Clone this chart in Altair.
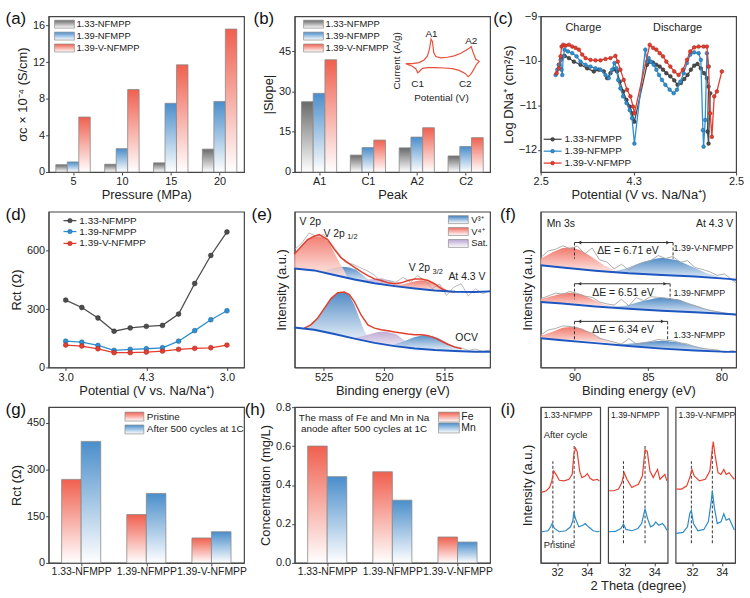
import altair as alt
import pandas as pd

FONT = "Liberation Sans"
W, H = 197, 157
ONE = pd.DataFrame({"k": [0]})
INK = "#222222"

SERIES = ["1.33-NFMPP", "1.39-NFMPP", "1.39-V-NFMPP"]
TOP_GRAY, TOP_BLUE, TOP_RED = "#6a6a6a", "#4a8ecb", "#f0604f"
L_GRAY, L_BLUE, L_RED = "#4d4d4d", "#2f8fd0", "#e53d2f"
D_GRAY, D_BLUE, D_RED = "#222222", "#1a5f95", "#9c2418"

# ---------------- (a) ----------------
pressure = ["5", "10", "15", "20"]
a_133 = [0.8, 0.85, 1.0, 2.5]
a_139 = [1.1, 2.55, 7.5, 7.7]
a_139v = [6.0, 9.0, 11.7, 15.6]

# ---------------- (b) ----------------
peaks = ["A1", "C1", "A2", "C2"]
b_133 = [26.2, 6.3, 9.0, 6.0]
b_139 = [29.3, 9.1, 13.0, 9.5]
b_139v = [41.8, 11.9, 16.5, 12.8]
cv_pot = [2.000, 2.218, 2.436, 2.600, 2.709, 2.775, 2.829, 2.873, 2.916, 2.982, 3.145, 3.364, 3.582,
          3.800, 3.964, 4.073, 4.138, 4.204, 4.291, 4.400,
          4.313, 4.225, 4.127, 4.040, 3.942, 3.745, 3.527, 3.255, 2.982, 2.709, 2.545, 2.436, 2.393,
          2.327, 2.196, 2.000]
cv_cur = [0.00, 0.00, 0.12, 0.44, 0.92, 1.72, 2.92, 2.60, 1.32, 0.84, 0.68, 0.76, 0.92,
          1.24, 1.60, 1.84, 2.04, 1.32, 0.52, 0.28,
          -0.08, -0.68, -1.28, -1.56, -1.16, -0.80, -0.60, -0.52, -0.48, -0.48, -0.56, -0.96, -1.08,
          -0.60, -0.28, 0.00]

# ---------------- (c) ----------------
c_x_133 = [0.187, 0.211, 0.245, 0.289, 0.340, 0.408, 0.476, 0.544, 0.595, 0.646, 0.680, 0.714, 0.755, 0.782,
           0.810, 0.844, 0.878, 0.912, 0.935, 0.959, 1.088, 1.116, 1.150, 1.184, 1.218, 1.252, 1.286, 1.327,
           1.367, 1.401, 1.435, 1.469, 1.503, 1.537, 1.571, 1.605, 1.639, 1.673, 1.701, 1.718, 1.707, 1.718, 1.735]
c_y_133 = [-10.09, -9.96, -9.89, -9.94, -10.02, -10.09, -10.17, -10.24, -10.20, -10.24, -10.39, -10.28, -10.19,
           -10.24, -10.47, -10.69, -10.88, -11.03, -11.18, -11.37, -10.09, -10.02, -10.04, -10.09, -10.13,
           -10.20, -10.28, -10.35, -10.44, -10.54, -10.50, -10.41, -10.32, -10.20, -10.11, -10.07, -10.17,
           -10.28, -10.39, -10.58, -11.59, -11.86, -10.73]
c_x_139 = [0.153, 0.170, 0.187, 0.204, 0.214, 0.221, 0.231, 0.245, 0.279, 0.323, 0.367, 0.408, 0.459, 0.510,
           0.561, 0.612, 0.663, 0.697, 0.731, 0.755, 0.776, 0.793, 0.816, 0.844, 0.878, 0.912, 0.935, 0.959,
           1.071, 1.088, 1.105, 1.129, 1.156, 1.184, 1.211, 1.241, 1.276, 1.320, 1.361, 1.395, 1.429, 1.463,
           1.497, 1.531, 1.571, 1.616, 1.639, 1.660, 1.667, 1.684, 1.701, 1.718]
c_y_139 = [-10.32, -10.20, -10.09, -9.98, -10.20, -10.32, -9.90, -9.75, -9.79, -9.83, -9.90, -10.02, -10.09,
           -10.13, -10.17, -10.20, -10.32, -10.39, -10.20, -10.05, -10.17, -10.43, -10.62, -10.80, -10.95,
           -11.11, -11.29, -11.86, -9.75, -10.02, -9.94, -10.02, -10.09, -10.20, -10.32, -10.43, -10.54,
           -10.65, -10.73, -10.65, -10.47, -10.28, -10.05, -9.86, -9.81, -9.83, -9.98, -11.56, -11.93,
           -11.33, -9.83, -10.13]
c_x_139v = [0.163, 0.187, 0.204, 0.214, 0.231, 0.255, 0.289, 0.323, 0.357, 0.391, 0.425, 0.459, 0.510, 0.561,
            0.612, 0.663, 0.714, 0.765, 0.789, 0.816, 0.850, 0.884, 0.918, 0.946, 0.959, 1.116, 1.150, 1.184,
            1.218, 1.252, 1.286, 1.327, 1.367, 1.412, 1.456, 1.497, 1.531, 1.571, 1.616, 1.667, 1.701, 1.718,
            1.735, 1.752, 1.776, 1.803, 1.854]
c_y_139v = [-10.28, -10.17, -9.90, -9.68, -9.64, -9.66, -9.64, -9.68, -9.71, -9.75, -9.86, -9.94, -9.98, -9.99,
            -9.99, -9.96, -9.94, -9.89, -10.02, -10.20, -10.43, -10.65, -10.80, -11.03, -11.18, -9.64, -9.71,
            -9.75, -9.83, -9.90, -10.02, -10.13, -10.24, -10.32, -10.20, -9.98, -9.79, -9.70, -9.68, -9.68,
            -9.68, -10.13, -11.18, -11.71, -10.80, -10.69, -10.24]
c_ticks = [0, 0.952, 2]

# ---------------- (d) ----------------
d_step = [0, 1, 2, 3, 4, 5, 6, 7, 8, 9, 10]
d_133 = [346, 308, 254, 186, 203, 211, 216, 274, 431, 575, 696]
d_139 = [135, 130, 113, 88, 93, 96, 101, 135, 189, 245, 291]
d_139v = [115, 110, 96, 76, 76, 79, 84, 93, 98, 101, 115]

# ---------------- (e) ----------------
e_base_be = [527.44, 525.78, 524.11, 522.44, 520.78, 519.11, 517.44, 515.78, 514.11, 512.44, 511.19]
e_base_hi = [30.2, 29.6, 28.2, 26.8, 25.7, 24.8, 24.1, 23.5, 23.1, 23.0, 23.2]
e_base_ocv = [12.2, 11.5, 10.2, 8.8, 7.5, 6.5, 5.8, 5.3, 5.0, 4.8, 4.8]
e_v4a_be = [527.44, 526.89, 526.33, 525.78, 525.36, 524.94, 524.53, 524.11, 523.69, 523.28, 523.0]
e_v4a_top = [34.5, 37.0, 39.0, 39.8, 40.0, 39.5, 38.0, 35.0, 32.0, 29.5, 27.3]
e_v4a_bot = [30.2, 30.0, 29.8, 29.6, 29.3, 28.9, 28.6, 28.2, 27.9, 27.5, 27.3]
e_v3a_be = [525.08, 524.53, 523.97, 523.42, 522.86, 522.31, 521.75, 521.33, 521.06]
e_v3a_top = [29.0, 30.0, 30.5, 30.7, 30.5, 29.8, 28.2, 27.0, 25.9]
e_v3a_bot = [29.0, 28.6, 28.1, 27.6, 27.1, 26.7, 26.3, 26.0, 25.9]
e_sata_be = [522.0, 521.0, 520.2, 519.5, 518.5, 518.0]
e_sata_top = [26.5, 26.9, 27.2, 26.5, 25.0, 24.4]
e_sata_bot = [26.5, 25.8, 25.4, 25.0, 24.5, 24.3]
e_v4b_be = [519.5, 518.5, 517.5, 516.9, 516.0, 515.2, 514.5]
e_v4b_top = [25.0, 25.3, 26.2, 26.6, 26.0, 24.6, 23.2]
e_v4b_bot = [25.0, 24.5, 24.1, 23.9, 23.6, 23.4, 23.2]
e_env_hi_be = [527.44, 526.33, 525.78, 525.36, 524.67, 524.11, 523.56, 523.0, 522.44, 521.89, 521.33, 520.78,
               520.22, 519.67, 519.11, 518.56, 518.0, 517.44, 516.89, 516.33, 515.78, 515.22, 514.67, 514.11]
e_env_hi = [34.5, 39.0, 40.0, 40.5, 39.0, 36.0, 33.5, 32.0, 30.5, 29.2, 28.0, 27.0, 26.5, 25.8, 25.5, 25.8,
            26.5, 27.0, 27.0, 26.5, 25.5, 24.0, 23.2, 23.0]
e_v3o_be = [526.6, 526.06, 525.5, 524.94, 524.39, 523.83, 523.28, 522.86, 522.44, 522.03, 521.61, 521.19, 521.0]
e_v3o_top = [11.9, 13.0, 15.0, 18.0, 21.0, 22.8, 23.0, 22.0, 19.0, 15.0, 11.0, 8.8, 7.7]
e_v3o_bot = [11.9, 11.7, 11.2, 10.7, 10.3, 9.9, 9.5, 9.1, 8.8, 8.5, 8.2, 7.8, 7.7]
e_sato_be = [522.5, 521.5, 520.5, 519.9, 519.0, 518.2, 517.5]
e_sato_top = [8.9, 9.8, 10.8, 11.0, 10.2, 8.0, 5.9]
e_sato_bot = [8.9, 8.1, 7.3, 6.9, 6.4, 6.1, 5.9]
e_v3ob_be = [519.5, 518.5, 517.5, 516.6, 515.5, 514.5, 513.5]
e_v3ob_top = [6.6, 7.8, 9.2, 10.0, 9.0, 7.0, 5.0]
e_v3ob_bot = [6.6, 6.2, 5.8, 5.5, 5.3, 5.1, 5.0]
e_env_ocv_be = [526.6, 526.06, 525.5, 524.94, 524.39, 523.83, 523.28, 522.86, 522.44, 521.89, 521.33, 520.78,
                520.22, 519.67, 519.11, 518.56, 518.0, 517.44, 516.89, 516.33, 515.78, 515.22, 514.67, 514.11,
                513.56]
e_env_ocv = [12.0, 13.0, 15.0, 18.0, 21.0, 22.8, 23.0, 22.2, 20.0, 16.0, 13.0, 12.0, 11.5, 11.2, 10.8, 10.5,
             10.2, 10.0, 10.0, 9.7, 9.0, 8.0, 7.0, 6.2, 5.7]
e_raw_be = [527.4, 526.8, 526.2, 525.6, 525.0, 524.4, 523.8, 523.2, 522.6, 522.0, 521.4, 520.8, 520.2, 519.6,
            519.0, 518.4, 517.8, 517.2, 516.6, 516.0, 515.4, 514.8, 514.2, 513.6, 513.0, 512.4, 511.8, 511.2]
e_raw_hi = [36.0, 38.0, 41.0, 40.0, 40.5, 38.0, 35.0, 32.0, 31.5, 30.5, 29.5, 28.2, 26.0, 26.5, 26.0, 27.5,
            26.0, 28.0, 26.5, 24.0, 25.5, 22.0, 24.5, 25.5, 21.8, 24.0, 22.5, 23.5]
e_raw_ocv_be = [516.0, 515.4, 514.8, 514.2, 513.6, 513.0, 512.4, 511.8, 511.2]
e_raw_ocv = [9.6, 8.4, 7.2, 6.4, 6.0, 5.2, 5.6, 4.9, 5.3]

# ---------------- (f) ----------------
f_base_be = [92.3, 90.84, 88.58, 86.32, 84.06, 81.81, 79.55, 79.0]
f_base = {"top": [31.5, 30.8, 29.8, 29.0, 28.5, 28.0, 27.3, 27.0],
          "mid": [20.2, 19.7, 18.8, 18.1, 17.5, 17.0, 16.5, 16.3],
          "bot": [9.0, 8.4, 7.5, 6.6, 5.8, 5.2, 4.8, 4.8]}
f_red_be = [92.3, 91.5, 90.8, 90.2, 89.5, 88.8, 88.0, 87.3, 86.7]
f_red_top = {"top": [33.5, 35.5, 36.8, 37.0, 36.0, 34.0, 31.5, 30.0, 29.1],
             "mid": [21.0, 22.0, 22.8, 23.0, 22.5, 21.0, 19.5, 18.8, 18.4],
             "bot": [9.8, 11.0, 12.2, 12.5, 12.0, 10.5, 8.5, 7.6, 7.1]}
f_red_bot = {"top": [31.5, 31.1, 30.8, 30.6, 30.3, 30.0, 29.6, 29.3, 29.1],
             "mid": [20.2, 20.0, 19.8, 19.7, 19.5, 19.2, 18.9, 18.6, 18.4],
             "bot": [9.0, 8.8, 8.6, 8.5, 8.3, 8.0, 7.7, 7.3, 7.1]}
f_blue_be = [87.5, 86.5, 85.5, 84.5, 84.0, 83.0, 82.0, 81.0, 80.0, 79.0]
f_blue_top = {"top": [29.4, 30.5, 32.3, 33.5, 33.8, 33.0, 31.0, 29.0, 27.8, 27.0],
              "mid": [18.6, 19.0, 20.3, 21.3, 21.5, 21.0, 19.5, 18.0, 17.0, 16.3],
              "bot": [7.2, 7.2, 7.6, 8.1, 8.2, 7.8, 6.8, 5.8, 5.1, 4.8]}
f_blue_bot = {"top": [29.4, 29.0, 28.7, 28.6, 28.4, 28.2, 28.0, 27.6, 27.3, 27.0],
              "mid": [18.6, 18.3, 18.0, 17.7, 17.5, 17.3, 17.1, 16.9, 16.7, 16.3],
              "bot": [7.2, 6.9, 6.5, 6.0, 5.8, 5.6, 5.4, 5.2, 5.0, 4.8]}
f_raw_be = [92.3, 91.8, 91.3, 90.8, 90.3, 89.8, 89.3, 88.8, 88.3, 87.8, 87.3, 86.8, 86.3, 85.8, 85.3, 84.8,
            84.3, 83.8, 83.3, 82.8, 82.3, 81.8, 81.3, 80.8, 80.3, 79.8, 79.3, 79.0]
f_raw = {"top": [33.8, 35.9, 36.4, 37.5, 36.6, 37.4, 35.0, 36.8, 33.2, 32.5, 30.4, 31.8, 30.0, 31.5, 32.4, 33.0,
                 34.5, 33.6, 34.2, 32.4, 32.9, 30.8, 30.2, 29.5, 28.4, 28.8, 27.2, 26.0],
         "mid": [21.2, 22.0, 22.9, 22.6, 23.4, 22.8, 22.0, 21.6, 20.2, 19.6, 19.2, 21.0, 19.0, 21.5, 20.6, 21.8,
                 21.6, 21.4, 21.0, 20.7, 19.6, 19.0, 18.2, 17.6, 17.2, 16.8, 16.5, 16.0],
         "bot": [10.0, 11.5, 12.0, 12.8, 12.6, 12.3, 11.2, 10.6, 9.0, 8.4, 7.8, 7.2, 8.9, 7.3, 7.6, 8.0, 8.6, 8.4,
                 8.2, 7.6, 7.2, 6.4, 5.9, 5.6, 5.4, 4.6, 5.2, 4.9]}
f_dE = [6.71, 6.51, 6.34]
f_dE_left = 90.0
f_arrow_y = [38.5, 25.8, 14.2]
f_dash_low = [33.5, 21.0, 8.0]
f_samples = ["1.39-V-NFMPP", "1.39-NFMPP", "1.33-NFMPP"]

# ---------------- (g) / (h) ----------------
g_pristine = [268, 155, 80]
g_after = [390, 223, 100]
h_fe = [0.60, 0.468, 0.133]
h_mn = [0.443, 0.322, 0.107]

# ---------------- (i) ----------------
i_red_x = [
    [30.96, 31.28, 31.5, 31.65, 31.78, 31.93, 32.15, 32.48, 32.8, 33.02, 33.13, 33.24, 33.35, 33.52, 33.67, 33.89,
     34.04, 34.22, 34.43, 34.7, 34.85],
    [30.95, 31.27, 31.6, 31.82, 31.98, 32.16, 32.49, 32.93, 33.2, 33.38, 33.53, 33.71, 33.93, 34.1, 34.22, 34.38,
     34.6, 34.71, 34.85],
    [30.95, 31.3, 31.65, 31.85, 32.0, 32.15, 32.5, 32.9, 33.2, 33.35, 33.43, 33.55, 33.75, 33.95, 34.14, 34.3,
     34.5, 34.65, 34.85]]
i_red_y = [
    [21.5, 22.0, 23.0, 25.0, 28.0, 27.0, 25.2, 25.0, 25.5, 27.0, 33.0, 35.0, 34.0, 28.0, 26.0, 26.5, 27.2, 25.8,
     25.2, 25.5, 25.0],
    [22.0, 22.0, 22.5, 24.5, 27.5, 25.5, 23.0, 24.0, 26.5, 34.5, 34.0, 28.0, 26.0, 27.5, 28.5, 25.5, 26.5, 27.0,
     25.0],
    [22.5, 22.5, 23.5, 26.0, 28.5, 26.5, 25.0, 25.5, 28.0, 34.0, 37.0, 33.0, 27.5, 27.0, 28.5, 27.0, 27.5, 26.5,
     25.5]]
i_blue_x = [
    [30.96, 31.4, 31.57, 31.67, 31.83, 32.15, 32.59, 32.91, 33.07, 33.13, 33.24, 33.46, 33.74, 33.89, 34.11, 34.43,
     34.7, 34.85],
    [30.95, 31.4, 31.75, 31.93, 32.1, 32.5, 32.9, 33.15, 33.38, 33.55, 33.75, 33.95, 34.1, 34.3, 34.55, 34.7,
     34.85],
    [30.95, 31.4, 31.7, 31.85, 31.96, 32.1, 32.4, 32.8, 33.1, 33.3, 33.37, 33.5, 33.7, 33.95, 34.14, 34.3, 34.5,
     34.65, 34.85]]
i_blue_y = [
    [9.5, 9.8, 11.0, 12.0, 10.5, 9.5, 9.8, 11.0, 13.0, 15.5, 13.5, 11.0, 11.5, 12.0, 11.0, 9.8, 9.5, 9.6],
    [9.5, 9.6, 10.5, 11.8, 10.2, 9.8, 10.5, 12.0, 16.5, 13.5, 11.0, 11.5, 12.5, 11.5, 12.0, 11.2, 10.0],
    [9.0, 9.3, 11.0, 15.0, 16.0, 12.0, 9.8, 10.2, 12.5, 19.0, 22.0, 17.0, 12.0, 12.5, 15.0, 13.0, 13.5, 12.0, 10.0]]
i_dash = [[31.72, 33.15], [31.93, 33.38], [31.96, 33.37]]
i_dash_top = [31.0, 36.0]
i_dash_low = 6.0


# ================= helpers =================
def grad(c, end="#ffffff"):
    return {"gradient": "linear", "x1": 0, "x2": 0, "y1": 0, "y2": 1,
            "stops": [{"offset": 0, "color": c}, {"offset": 1, "color": end}]}


def txt(s, x, y, size=10.5, align="left", baseline="middle", color=INK, italic=False, angle=None):
    kw = dict(text=s, align=align, baseline=baseline, fontSize=size, color=color, font=FONT)
    if italic:
        kw["fontStyle"] = "italic"
    if angle is not None:
        kw["angle"] = angle
    return alt.Chart(ONE).mark_text(**kw).encode(x=alt.value(x), y=alt.value(y))


def swatch(c, x, y, w=20, h=8):
    return alt.Chart(ONE).mark_rect(color=grad(c), stroke="#8c8c8c", strokeWidth=0.7).encode(
        x=alt.value(x), x2=alt.value(x + w), y=alt.value(y), y2=alt.value(y + h))


def plabel(s, dx=-33, dy=3):
    return txt(s, dx, dy, size=17, align="center", color="#111111")


def grouped_bars(cats, names, vals, tops, ydom, yvals, ytitle, xtitle, bw, yfmt=None, lsize=11):
    rows = []
    for si, (n, v) in enumerate(zip(names, vals)):
        for ci, val in enumerate(v):
            rows.append({"ci": ci, "si": si, "series": n, "value": val})
    df = pd.DataFrame(rows)
    k = len(names)
    mid = (k - 1) / 2
    label_expr = "[" + ",".join("'%s'" % c for c in cats) + "][round(datum.value)]"
    xk = dict(values=list(range(len(cats))), labelExpr=label_expr, labelOverlap=False, labelFontSize=lsize,
              title=xtitle)
    xax = alt.Axis(**xk)
    yk = dict(values=yvals, title=ytitle)
    if yfmt:
        yk["format"] = yfmt
    yax = alt.Axis(**yk)
    base = alt.Chart(df).transform_calculate(
        left="datum.ci + (datum.si - %f) * %f - %f" % (mid, bw, bw / 2),
        right="datum.ci + (datum.si - %f) * %f + %f" % (mid, bw, bw / 2),
        zero="0")
    layers = []
    for si, top in enumerate(tops):
        layers.append(
            base.transform_filter(alt.datum.si == si).mark_bar(
                color=grad(top), stroke="#8a8a8a", strokeWidth=0.8).encode(
                x=alt.X("left:Q", scale=alt.Scale(domain=[-0.5, len(cats) - 0.5], nice=False, zero=False),
                        axis=xax),
                x2="right:Q",
                y=alt.Y("value:Q", scale=alt.Scale(domain=ydom, nice=False), axis=yax),
                y2="zero:Q"))
    return layers


def line_pts(xs, ys, col, dark, xscale, yscale, xaxis, yaxis, size):
    df = pd.DataFrame({"x": xs, "y": ys, "i": list(range(len(xs)))})
    base = alt.Chart(df).encode(x=alt.X("x:Q", scale=xscale, axis=xaxis),
                                y=alt.Y("y:Q", scale=yscale, axis=yaxis), order=alt.Order("i:Q"))
    return [base.mark_line(color=col, strokeWidth=1.3),
            base.mark_circle(color=col, stroke=dark, strokeWidth=0.5, size=size, opacity=1)]


def line_key(col, dark, x0, x1, y, label, size, fs=10):
    return [alt.Chart(ONE).mark_rule(color=col, strokeWidth=1.3).encode(
                x=alt.value(x0), x2=alt.value(x1), y=alt.value(y)),
            alt.Chart(ONE).mark_circle(color=col, stroke=dark, strokeWidth=0.5, size=size, opacity=1).encode(
                x=alt.value((x0 + x1) / 2), y=alt.value(y)),
            txt(label, x1 + 3, y, size=fs)]


# ================= (a) =================
panel_a = alt.layer(
    *grouped_bars(pressure, SERIES, [a_133, a_139, a_139v], [TOP_GRAY, TOP_BLUE, TOP_RED],
                  [0, 17], [0, 4, 8, 12, 16], "σc × 10⁻⁴ (S/cm)", "Pressure (MPa)", 0.235),
    swatch(TOP_GRAY, 6, 4), swatch(TOP_BLUE, 6, 16), swatch(TOP_RED, 6, 28),
    txt(SERIES[0], 28, 8, size=9.5), txt(SERIES[1], 28, 20, size=9.5), txt(SERIES[2], 28, 32, size=9.5),
    plabel("(a)"),
).properties(width=W, height=H)

# ================= (b) =================
b_inner = alt.layer(
    *grouped_bars(peaks, SERIES, [b_133, b_139, b_139v], [TOP_GRAY, TOP_BLUE, TOP_RED],
                  [0, 58], [0, 15, 30, 45], "|Slope|", "Peak", 0.24),
    swatch(TOP_GRAY, 9, 4), swatch(TOP_BLUE, 9, 16), swatch(TOP_RED, 9, 28),
    txt(SERIES[0], 31, 8, size=9.5), txt(SERIES[1], 31, 20, size=9.5), txt(SERIES[2], 31, 32, size=9.5),
    plabel("(b)", dx=-31),
)
cv_df = pd.DataFrame({"pot": cv_pot, "cur": cv_cur, "i": list(range(len(cv_pot)))})
b_inset = alt.Chart(cv_df).mark_line(color="#e8503f", strokeWidth=1.2).encode(
    x=alt.X("pot:Q", scale=alt.Scale(domain=[2.0, 4.4], range=[112, 186], nice=False, zero=False), axis=None),
    y=alt.Y("cur:Q", scale=alt.Scale(domain=[-1.56, 2.92], range=[61, 23], nice=False, zero=False), axis=None),
    order=alt.Order("i:Q"))
panel_b = alt.layer(
    b_inner, b_inset,
    txt("A1", 138, 18, size=10, align="center"), txt("A2", 178, 25, size=10, align="center"),
    txt("C1", 124, 68, size=10, align="center"), txt("C2", 172, 68, size=10, align="center"),
    txt("Potential (V)", 148, 82, size=10, align="center"),
    txt("Current (A/g)", 103, 45, size=10, align="center", angle=270),
).resolve_scale(x="independent", y="independent").properties(width=W, height=H)

# ================= (c) =================
cxs = alt.Scale(domain=[0, 2], nice=False, zero=False)
cys = alt.Scale(domain=[-12.5, -9], nice=False, zero=False)
cxa = alt.Axis(values=c_ticks, title="Potential (V vs. Na/Na⁺)",
               labelExpr="datum.value < 0.5 ? '2.5' : (datum.value < 1.5 ? '4.3' : '2.5')")
cya = alt.Axis(values=[-12, -11, -10, -9], title="Log DNa⁺ (cm²/s)")
c_layers = []
for xs, ys, col, dk in [(c_x_133, c_y_133, L_GRAY, D_GRAY), (c_x_139, c_y_139, L_BLUE, D_BLUE),
                        (c_x_139v, c_y_139v, L_RED, D_RED)]:
    c_layers += line_pts(xs, ys, col, dk, cxs, cys, cxa, cya, 14)
panel_c = alt.layer(
    *c_layers,
    txt("Charge", 43, 12, size=11, align="center"), txt("Discharge", 138, 12, size=11, align="center"),
    *line_key(L_GRAY, D_GRAY, 3, 21, 124, SERIES[0], 14),
    *line_key(L_BLUE, D_BLUE, 3, 21, 136, SERIES[1], 14),
    *line_key(L_RED, D_RED, 3, 21, 148, SERIES[2], 14),
    plabel("(c)", dx=-38),
).properties(width=W, height=H)

# ================= (d) =================
dxs = alt.Scale(domain=[-1.06, 11.06], nice=False, zero=False)
dys = alt.Scale(domain=[0, 800], nice=False)
dxa = alt.Axis(values=[0, 5, 10], title="Potential (V vs. Na/Na⁺)",
               labelExpr="datum.value == 5 ? '4.3' : '3.0'")
dya = alt.Axis(values=[0, 300, 600], title="Rct (Ω)")
d_layers = []
for ys, col, dk in [(d_133, L_GRAY, D_GRAY), (d_139, L_BLUE, D_BLUE), (d_139v, L_RED, D_RED)]:
    d_layers += line_pts(d_step, ys, col, dk, dxs, dys, dxa, dya, 24)
panel_d = alt.layer(
    *d_layers,
    *line_key(L_GRAY, D_GRAY, 15, 28, 9, SERIES[0], 20),
    *line_key(L_BLUE, D_BLUE, 15, 28, 20, SERIES[1], 20),
    *line_key(L_RED, D_RED, 15, 28, 32, SERIES[2], 20),
    plabel("(d)"),
).properties(width=W, height=H)

# ================= (e) =================
exs = alt.Scale(domain=[511.2, 527.4], reverse=True, nice=False, zero=False)
eys = alt.Scale(domain=[0, 47.5], nice=False)
exa = alt.Axis(values=[525, 520, 515], title="Binding energy (eV)")
eya = alt.Axis(labels=False, ticks=False, title="Intensity (a.u.)", titlePadding=6)
C_V3, C_V4, C_SAT = "#3f7fbf", "#f06a5c", "#b9a3cf"


def e_area(be, top, bot, col, end, op=0.9, xs=exs, ys=eys, xa=exa, ya=eya):
    df = pd.DataFrame({"be": be, "top": top, "bot": bot})
    return alt.Chart(df).mark_area(color=grad(col, end), opacity=op).encode(
        x=alt.X("be:Q", scale=xs, axis=xa), y=alt.Y("top:Q", scale=ys, axis=ya), y2="bot:Q")


def e_line(be, val, col, w, xs=exs, ys=eys, xa=exa, ya=eya):
    df = pd.DataFrame({"be": be, "val": val})
    return alt.Chart(df).mark_line(color=col, strokeWidth=w).encode(
        x=alt.X("be:Q", scale=xs, axis=xa), y=alt.Y("val:Q", scale=ys, axis=ya))


panel_e = alt.layer(
    e_area(e_v3a_be, e_v3a_top, e_v3a_bot, C_V3, "#e9f0f8"),
    e_area(e_sata_be, e_sata_top, e_sata_bot, C_SAT, "#f1ecf6"),
    e_area(e_v4b_be, e_v4b_top, e_v4b_bot, C_V4, "#fde9e6"),
    e_area(e_v4a_be, e_v4a_top, e_v4a_bot, C_V4, "#fde9e6", op=0.85),
    e_area(e_v3o_be, e_v3o_top, e_v3o_bot, C_V3, "#e9f0f8"),
    e_area(e_sato_be, e_sato_top, e_sato_bot, C_SAT, "#f1ecf6"),
    e_area(e_v3ob_be, e_v3ob_top, e_v3ob_bot, C_V3, "#e9f0f8"),
    e_line(e_raw_be, e_raw_hi, "#a8a8a8", 0.8),
    e_line(e_raw_ocv_be, e_raw_ocv, "#a8a8a8", 0.8),
    e_line(e_env_hi_be, e_env_hi, "#e0402f", 1.5),
    e_line(e_env_ocv_be, e_env_ocv, "#e0402f", 1.5),
    e_line(e_base_be, e_base_hi, "#1d56c0", 2),
    e_line(e_base_be, e_base_ocv, "#1d56c0", 2),
    txt("V 2p", 5, 10, size=10.5), txt("V 2p", 29, 22, size=10.5), txt("1/2", 53, 26, size=7.5),
    txt("V 2p", 115, 57, size=10.5), txt("3/2", 139, 61, size=7.5),
    txt("At 4.3 V", 155, 66, size=10.5), txt("OCV", 162, 127, size=10.5),
    swatch(C_V3, 155, 4), swatch(C_V4, 155, 16), swatch(C_SAT, 155, 28),
    txt("V³⁺", 178, 8, size=9.5), txt("V⁴⁺", 178, 20, size=9.5), txt("Sat.", 178, 32, size=9.5),
    plabel("(e)"),
).properties(width=W, height=H)

# ================= (f) =================
fxs = alt.Scale(domain=[79.0, 92.3], reverse=True, nice=False, zero=False)
fys = alt.Scale(domain=[0, 48], nice=False)
fxa = alt.Axis(values=[90, 85, 80], title="Binding energy (eV)")
fya = alt.Axis(labels=False, ticks=False, title="Intensity (a.u.)", titlePadding=6)
f_layers = []
for key in ["top", "mid", "bot"]:
    f_layers.append(e_area(f_red_be, f_red_top[key], f_red_bot[key], "#f0695b", "#fde8e5", 0.9, fxs, fys, fxa, fya))
    f_layers.append(e_area(f_blue_be, f_blue_top[key], f_blue_bot[key], "#3d7fc0", "#e8eff8", 0.9, fxs, fys, fxa, fya))
for key in ["top", "mid", "bot"]:
    f_layers.append(e_line(f_raw_be, f_raw[key], "#a3a3a3", 0.9, fxs, fys, fxa, fya))
    f_layers.append(e_line(f_base_be, f_base[key], "#1d56c0", 2, fxs, fys, fxa, fya))
dash_rows, arr_rows, head_rows = [], [], []
for dE, ya_, yl in zip(f_dE, f_arrow_y, f_dash_low):
    for b in [f_dE_left, f_dE_left - dE]:
        dash_rows.append({"be": b, "y1": ya_, "y2": yl})
    arr_rows.append({"b1": f_dE_left, "b2": f_dE_left - dE, "y": ya_})
    head_rows.append({"be": f_dE_left - 0.35, "y": ya_, "s": "triangle-left"})
    head_rows.append({"be": f_dE_left - dE + 0.35, "y": ya_, "s": "triangle-right"})
f_layers.append(alt.Chart(pd.DataFrame(dash_rows)).mark_rule(color="#333333", strokeDash=[3, 2], strokeWidth=1).encode(
    x=alt.X("be:Q", scale=fxs, axis=fxa), y=alt.Y("y1:Q", scale=fys, axis=fya), y2="y2:Q"))
f_layers.append(alt.Chart(pd.DataFrame(arr_rows)).mark_rule(color="#333333", strokeWidth=1).encode(
    x=alt.X("b1:Q", scale=fxs, axis=fxa), x2="b2:Q", y=alt.Y("y:Q", scale=fys, axis=fya)))
f_layers.append(alt.Chart(pd.DataFrame(head_rows)).mark_point(filled=True, color="#333333", size=14, opacity=1).encode(
    x=alt.X("be:Q", scale=fxs, axis=fxa), y=alt.Y("y:Q", scale=fys, axis=fya),
    shape=alt.Shape("s:N", scale=None)))
panel_f = alt.layer(
    *f_layers,
    txt("Mn 3s", 6, 12, size=10.5), txt("At 4.3 V", 194, 12, size=10.5, align="right"),
    txt("ΔE = 6.71 eV", 88, 40, size=10.5, align="center"),
    txt("ΔE = 6.51 eV", 83, 82, size=10.5, align="center"),
    txt("ΔE = 6.34 eV", 83, 119, size=10.5, align="center"),
    txt(f_samples[0], 134, 37, size=9), txt(f_samples[1], 134, 82, size=9),
    txt(f_samples[2], 134, 124, size=9),
    plabel("(f)"),
).properties(width=W, height=H)

# ================= (g) =================
panel_g = alt.layer(
    *grouped_bars(SERIES, ["Pristine", "After 500 cycles at 1C"], [g_pristine, g_after],
                  [TOP_RED, TOP_BLUE], [0, 500], [0, 150, 300, 450], "Rct (Ω)", None, 0.3, lsize=10.5),
    swatch(TOP_RED, 77, 5, 19, 9), swatch(TOP_BLUE, 77, 18, 19, 9),
    txt("Pristine", 99, 9.5, size=10), txt("After 500 cycles at 1C", 99, 22.5, size=10),
    plabel("(g)"),
).properties(width=W, height=H)

# ================= (h) =================
panel_h = alt.layer(
    *grouped_bars(SERIES, ["Fe", "Mn"], [h_fe, h_mn], [TOP_RED, TOP_BLUE], [0, 0.8],
                  [0, 0.2, 0.4, 0.6, 0.8], "Concentration (mg/L)", None, 0.3, yfmt=".1f", lsize=10.5),
    swatch(TOP_RED, 145, 5, 21, 10), swatch(TOP_BLUE, 145, 16, 21, 10),
    txt("Fe", 168, 10), txt("Mn", 168, 21),
    txt("The mass of Fe and Mn in Na", 70, 11, size=10, align="center"),
    txt("anode after 500 cycles at 1C", 70, 22, size=10, align="center"),
    plabel("(h)", dx=-40),
).properties(width=W, height=H)


# ================= (i) =================
def xrd(k, name, first, mid):
    xs = alt.Scale(domain=[30.9, 34.9], nice=False, zero=False)
    ys = alt.Scale(domain=[0, 47.5], nice=False)
    xa = alt.Axis(values=[32, 34], title="2 Theta (degree)" if mid else None, format="d")
    ya = alt.Axis(labels=False, ticks=False, title="Intensity (a.u.)", titlePadding=6) if first else None
    red = pd.DataFrame({"t": i_red_x[k], "v": i_red_y[k]})
    blue = pd.DataFrame({"t": i_blue_x[k], "v": i_blue_y[k]})
    dash = pd.DataFrame({"t": i_dash[k], "y1": [i_dash_low, i_dash_low], "y2": i_dash_top})
    layers = [
        alt.Chart(dash).mark_rule(color="#333333", strokeDash=[3, 2], strokeWidth=1).encode(
            x=alt.X("t:Q", scale=xs, axis=xa), y=alt.Y("y1:Q", scale=ys, axis=ya), y2="y2:Q"),
        alt.Chart(red).mark_line(color="#e8412f", strokeWidth=1.2, clip=True).encode(
            x=alt.X("t:Q", scale=xs, axis=xa), y=alt.Y("v:Q", scale=ys, axis=ya)),
        alt.Chart(blue).mark_line(color="#2e8bc8", strokeWidth=1.2, clip=True).encode(
            x=alt.X("t:Q", scale=xs, axis=xa), y=alt.Y("v:Q", scale=ys, axis=ya)),
        txt(name, 3, 8, size=8.5),
    ]
    if first:
        layers += [txt("After cycle", 3, 28, size=9.5), txt("Pristine", 3, 139, size=9.5), plabel("(i)")]
    return alt.layer(*layers).properties(width=60, height=H)


panel_i = alt.hconcat(xrd(0, SERIES[0], True, False), xrd(1, SERIES[1], False, True),
                      xrd(2, SERIES[2], False, False), spacing=8, bounds="flush")

chart = alt.concat(
    panel_a, panel_b, panel_c, panel_d, panel_e, panel_f, panel_g, panel_h, panel_i,
    columns=3, spacing={"row": 40, "column": 51}, bounds="flush",
).properties(
    padding={"left": 5, "top": 7, "right": 5, "bottom": 2}
).configure_view(
    stroke="#444444", strokeWidth=1.2
).configure_axis(
    grid=False, domainColor="#444444", tickColor="#444444", labelColor=INK, titleColor=INK,
    labelFont=FONT, titleFont=FONT, labelFontSize=11, titleFontSize=13, titleFontWeight="normal",
    tickSize=3, labelFlush=False, labelPadding=1, titlePadding=3
).configure_axisX(
    titlePadding=2
).configure_text(font=FONT)

chart.save("out.html", embed_options={"renderer": "svg", "actions": False})
